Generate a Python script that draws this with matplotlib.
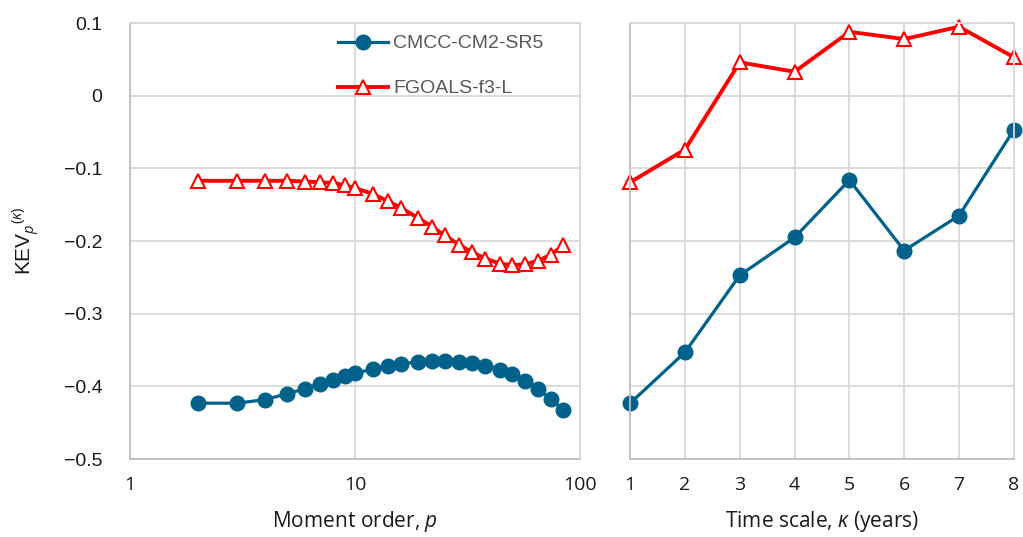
import matplotlib
matplotlib.use("Agg")
import matplotlib.pyplot as plt

# moment order p (left panel) and the two models' KEV values
p = [2, 3, 4, 5, 6, 7, 8, 9, 10, 12, 14, 16, 19, 22, 25, 29, 33, 38, 44, 50, 57, 65, 74, 84]
cmcc_p = [-0.423, -0.423, -0.418, -0.410, -0.403, -0.396, -0.391, -0.386, -0.382, -0.376,
          -0.372, -0.369, -0.366, -0.365, -0.365, -0.366, -0.368, -0.372, -0.377, -0.383,
          -0.392, -0.403, -0.417, -0.432]
fgoals_p = [-0.117, -0.117, -0.117, -0.117, -0.118, -0.119, -0.120, -0.123, -0.127, -0.135,
            -0.145, -0.154, -0.168, -0.180, -0.192, -0.205, -0.215, -0.224, -0.231, -0.233,
            -0.232, -0.227, -0.219, -0.206]

# time scale kappa (right panel)
kappa = [1, 2, 3, 4, 5, 6, 7, 8]
cmcc_k = [-0.423, -0.353, -0.247, -0.195, -0.116, -0.213, -0.165, -0.047]
fgoals_k = [-0.119, -0.074, 0.046, 0.033, 0.088, 0.078, 0.095, 0.053]

yticks = [-0.5, -0.4, -0.3, -0.2, -0.1, 0, 0.1]
ylabels = ['\u22120.5', '\u22120.4', '\u22120.3', '\u22120.2', '\u22120.1', '0', '0.1']

blue = "#00628a"
red = "#ff0000"
grid_c = "#d9d9d9"
txt = "#1a1a1a"

plt.rcParams['font.family'] = ['Open Sans', 'DejaVu Sans']
plt.rcParams['mathtext.fontset'] = 'custom'
plt.rcParams['mathtext.rm'] = 'Open Sans'
plt.rcParams['mathtext.it'] = 'Open Sans:italic'

fig = plt.figure(figsize=(10.23, 5.37), dpi=100)
ax1 = fig.add_axes([0.127, 0.145, 0.440, 0.812])
ax2 = fig.add_axes([0.616, 0.145, 0.375, 0.812])

for ax in (ax1, ax2):
    ax.set_ylim(-0.5, 0.1)
    ax.set_yticks(yticks)
    ax.grid(True, color=grid_c, linewidth=1.3)
    ax.set_axisbelow(True)
    for s in ax.spines.values():
        s.set_color(grid_c)
        s.set_linewidth(1.3)
    ax.spines['left'].set_color("#bfbfbf")
    ax.spines['bottom'].set_color("#bfbfbf")
    ax.tick_params(length=0, labelsize=14, colors=txt, pad=12)

ax1.plot(p, cmcc_p, color=blue, lw=2.3, marker='o', ms=10.5, label='CMCC-CM2-SR5')
ax1.plot(p, fgoals_p, color=red, lw=2.8, marker='^', ms=10.5, mfc='white', mec=red,
         mew=1.5, label='FGOALS-f3-L')
ax1.set_xscale('log')
ax1.set_xlim(1, 100)
ax1.set_xticks([1, 10, 100])
ax1.set_xticklabels(['1', '10', '100'])
ax1.minorticks_off()
ax1.set_yticklabels(ylabels, family=['Liberation Sans', 'DejaVu Sans'])
ax1.tick_params(axis='y', pad=20)
ax1.set_xlabel('Moment order, $\\it{p}$', fontsize=15, color=txt, labelpad=11)
ax1.set_ylabel('KEV$_p$$^{(\\kappa)}$', fontsize=15, color=txt, labelpad=16,
               family=['Liberation Sans', 'DejaVu Sans'])
leg = ax1.legend(loc='upper left', bbox_to_anchor=(0.462, 0.973), frameon=False,
                 borderpad=0, borderaxespad=0,
                 prop={'family': 'Liberation Sans', 'size': 14},
                 handlelength=2.6, labelspacing=1.4, handletextpad=0.25)
for t in leg.get_texts():
    t.set_color("#595959")

ax2.plot(kappa, cmcc_k, color=blue, lw=2.3, marker='o', ms=10.5)
ax2.plot(kappa, fgoals_k, color=red, lw=2.8, marker='^', ms=10.5, mfc='white', mec=red, mew=1.5)
ax2.set_xlim(1, 8)
ax2.set_xticks(kappa)
ax2.set_yticklabels([])
for a in (ax1, ax2):
    for l in a.lines:
        l.set_clip_on(False)
ax2.set_xlabel('Time scale, $\\it{\\kappa}$ (years)', fontsize=15, color=txt, labelpad=11)

fig.savefig('out.png', dpi=100)
